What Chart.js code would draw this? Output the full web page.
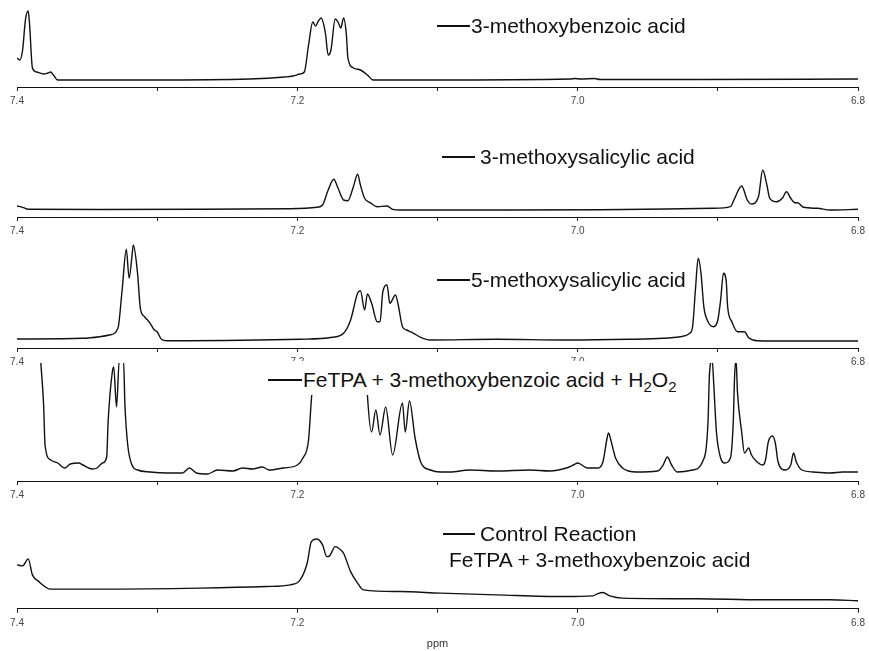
<!DOCTYPE html>
<html>
<head>
<meta charset="utf-8">
<script src="https://cdn.jsdelivr.net/npm/chart.js@4"></script>
<style>
  body { margin: 0; background: #fff; }
  #wrap { position: relative; width: 869px; height: 651px; overflow: hidden; background: #fff; }
  #wrap canvas { position: absolute; left: 0; }
  .tag { position: absolute; font-family: 'Liberation Sans', Arial, sans-serif; font-size: 21px; line-height: 21px; color: #111; white-space: nowrap; }
  .tag .ln { display: inline-block; height: 1.5px; background: #111; vertical-align: 0.3em; }
  .tag sub { font-size: 15px; vertical-align: -5px; line-height: 0; }
</style>
</head>
<body>
<div id="wrap">
  <div class="tag" style="left:437px;top:15px"><span class="ln" style="width:33px;margin-right:1px"></span>3-methoxybenzoic acid</div>
  <div class="tag" style="left:442px;top:146px"><span class="ln" style="width:33px;margin-right:5px"></span>3-methoxysalicylic acid</div>
  <div class="tag" style="left:437px;top:269px"><span class="ln" style="width:33px;margin-right:1px"></span>5-methoxysalicylic acid</div>
  <div class="tag" style="left:265px;top:361px;padding:8px 12px 5px 3px;background:#fff"><span class="ln" style="width:34px;margin-right:1px"></span>FeTPA + 3-methoxybenzoic acid + H<sub>2</sub>O<sub>2</sub></div>
  <div class="tag" style="left:443px;top:521px;line-height:26px"><span class="ln" style="width:32px;margin-right:5px"></span>Control Reaction</div>
  <div class="tag" style="left:449px;top:547px;line-height:26px">FeTPA + 3-methoxybenzoic acid</div>
</div>
<script>
// chemical shift axis
const axisTicks = [7.4, 7.3, 7.2, 7.1, 7.0, 6.9, 6.8];
const tickLabels = ['7.4', '7.2', '7.0', '6.8'];

// 3-methoxybenzoic acid
const benzoicPpm = [7.400, 7.398, 7.396, 7.394, 7.392, 7.391, 7.389, 7.386, 7.381, 7.378, 7.376, 7.374, 7.371, 7.362, 7.305, 7.234, 7.209, 7.203, 7.198, 7.195, 7.192, 7.189, 7.187, 7.185, 7.183, 7.180, 7.178, 7.176, 7.173, 7.171, 7.169, 7.167, 7.165, 7.164, 7.160, 7.155, 7.150, 7.146, 7.105, 7.005, 7.002, 6.998, 6.988, 6.984, 6.913, 6.800];
const benzoicInt = [29, 27, 37, 67, 76, 62, 19, 15, 13, 14, 15, 12, 7, 7, 7, 8, 10, 11, 13, 15, 42, 65, 61, 66, 69, 54, 32, 37, 68, 65, 59, 69, 52, 30, 19, 17, 12, 7, 7, 8, 8.5, 8, 8.5, 7.5, 7.5, 8];

// 3-methoxysalicylic acid
const sal3Ppm = [7.400, 7.396, 7.392, 7.341, 7.269, 7.205, 7.186, 7.182, 7.178, 7.174, 7.171, 7.167, 7.164, 7.160, 7.157, 7.155, 7.152, 7.148, 7.143, 7.136, 7.132, 7.127, 7.055, 6.984, 6.903, 6.891, 6.888, 6.883, 6.879, 6.876, 6.871, 6.868, 6.865, 6.863, 6.858, 6.854, 6.851, 6.848, 6.845, 6.843, 6.839, 6.829, 6.820, 6.800];
const sal3Int = [11, 9.7, 7.7, 7.5, 7.7, 8.3, 9.7, 12, 27, 37.7, 29, 17, 16.3, 30.3, 42.7, 32, 18.7, 14.3, 10.3, 11, 7.7, 7, 7, 7.3, 8.7, 10.3, 18.7, 31, 17, 13, 20.3, 47, 32, 18.7, 15.3, 18.7, 25.3, 18.7, 14.3, 14.3, 9.7, 8.7, 7, 7.7];

// 5-methoxysalicylic acid
const sal5Ppm = [7.400, 7.353, 7.341, 7.334, 7.328, 7.325, 7.322, 7.320, 7.318, 7.317, 7.314, 7.312, 7.309, 7.305, 7.302, 7.300, 7.297, 7.293, 7.198, 7.175, 7.167, 7.162, 7.157, 7.155, 7.152, 7.150, 7.147, 7.143, 7.141, 7.139, 7.136, 7.134, 7.130, 7.128, 7.125, 7.122, 7.117, 7.112, 7.105, 7.058, 7.010, 6.963, 6.939, 6.927, 6.920, 6.918, 6.916, 6.914, 6.912, 6.910, 6.907, 6.903, 6.900, 6.898, 6.896, 6.894, 6.893, 6.890, 6.886, 6.881, 6.878, 6.872, 6.844, 6.800];
const sal5Int = [9, 9.7, 11.3, 13, 19.7, 58, 98.7, 69.7, 91.3, 103, 74.7, 39.7, 31.3, 24.7, 18, 16.3, 8.7, 7.3, 8.7, 10.7, 14.7, 28, 54.7, 57.3, 38, 54, 44.7, 26.3, 26.3, 56.3, 63, 44.7, 53, 43, 21.3, 18, 14.7, 10.7, 8, 8.7, 8, 8.7, 9.7, 11.3, 14.7, 21.3, 58, 89.7, 74.7, 41.3, 26.3, 21.3, 28, 48, 74.7, 66.3, 41.3, 26.3, 16.3, 16.3, 10.3, 7.3, 7, 7];

// FeTPA + 3-methoxybenzoic acid + H2O2 (tall signals run off scale)
const reactionPpm = [7.400, 7.391, 7.385, 7.383, 7.381, 7.380, 7.376, 7.371, 7.366, 7.362, 7.356, 7.353, 7.346, 7.343, 7.339, 7.336, 7.335, 7.332, 7.331, 7.329, 7.327, 7.324, 7.323, 7.321, 7.318, 7.314, 7.305, 7.293, 7.282, 7.277, 7.272, 7.264, 7.257, 7.246, 7.239, 7.232, 7.225, 7.220, 7.210, 7.200, 7.196, 7.192, 7.190, 7.187, 7.180, 7.166, 7.154, 7.152, 7.150, 7.147, 7.144, 7.141, 7.137, 7.132, 7.125, 7.123, 7.120, 7.116, 7.112, 7.105, 7.098, 7.091, 7.077, 7.058, 7.034, 7.020, 7.008, 7.003, 7.000, 6.993, 6.986, 6.982, 6.979, 6.978, 6.976, 6.973, 6.968, 6.958, 6.943, 6.939, 6.936, 6.933, 6.929, 6.918, 6.911, 6.907, 6.906, 6.904, 6.903, 6.901, 6.898, 6.895, 6.891, 6.889, 6.888, 6.887, 6.886, 6.883, 6.881, 6.878, 6.876, 6.872, 6.868, 6.866, 6.864, 6.861, 6.859, 6.857, 6.852, 6.848, 6.846, 6.844, 6.840, 6.832, 6.820, 6.811, 6.800];
const reactionInt = [320, 240, 160, 118, 76, 36, 21, 18, 13, 17, 18, 16, 12, 13, 18, 24, 59, 109, 114, 74, 121, 121, 76, 36, 16, 11, 9, 8, 8, 13, 8, 7, 11, 10, 13, 12, 14, 11, 13, 16, 23, 41, 81, 131, 300, 400, 300, 150, 86, 49, 71, 46, 74, 26, 78, 49, 80, 43, 19, 11, 9, 9, 11, 10, 11, 10, 13, 16, 18, 13, 13, 19, 43, 48, 39, 23, 13, 9, 10, 16, 24, 16, 9, 11, 19, 59, 106, 121, 99, 49, 23, 18, 23, 59, 106, 121, 89, 49, 28, 33, 26, 19, 16, 21, 39, 45, 38, 19, 11, 16, 28, 19, 11, 9, 8, 9, 9];

// control: FeTPA + 3-methoxybenzoic acid
const controlPpm = [7.400, 7.396, 7.392, 7.389, 7.385, 7.376, 7.341, 7.269, 7.222, 7.205, 7.198, 7.193, 7.190, 7.186, 7.182, 7.179, 7.177, 7.173, 7.169, 7.167, 7.162, 7.157, 7.153, 7.127, 7.098, 7.058, 7.010, 6.989, 6.986, 6.982, 6.977, 6.968, 6.915, 6.868, 6.820, 6.800];
const controlInt = [44, 43, 50, 34, 28, 19.7, 19.7, 20.7, 22.3, 24, 29, 45.7, 67.3, 70, 64, 52.3, 53, 62.3, 59, 55.7, 37.3, 25.7, 19, 17.3, 15.7, 14, 12.3, 13, 15, 16.3, 13, 10.7, 10, 9, 9, 8];

// room under each plot for the shift axis
const AXIS_H = 24;

const panels = [
  { ppm: benzoicPpm, int: benzoicInt, top: 5, yMax: 82 },
  { ppm: sal3Ppm, int: sal3Int, top: 140, yMax: 77 },
  { ppm: sal5Ppm, int: sal5Int, top: 240, yMax: 108 },
  { ppm: reactionPpm, int: reactionInt, top: 363, yMax: 118 },
  { ppm: controlPpm, int: controlInt, top: 520, yMax: 89, title: 'ppm' }
];

const wrap = document.getElementById('wrap');
const firstTag = wrap.querySelector('.tag');

panels.forEach(p => {
  const canvas = document.createElement('canvas');
  canvas.width = 869;
  canvas.height = p.yMax + AXIS_H + (p.title ? 18 : 0);
  canvas.style.top = p.top + 'px';
  wrap.insertBefore(canvas, firstTag);

  new Chart(canvas.getContext('2d'), {
    type: 'line',
    data: {
      datasets: [{
        data: p.ppm.map((x, k) => ({ x: x, y: p.int[k] })),
        borderColor: '#111',
        borderWidth: 1.4,
        pointRadius: 0,
        cubicInterpolationMode: 'monotone',
        fill: false
      }]
    },
    options: {
      responsive: false,
      animation: false,
      events: [],
      layout: { padding: { left: 17, right: 11, top: 0, bottom: 0 } },
      plugins: { legend: { display: false }, tooltip: { enabled: false } },
      scales: {
        x: {
          type: 'linear',
          reverse: true,
          min: 6.8,
          max: 7.4,
          afterBuildTicks: axis => { axis.ticks = axisTicks.map(v => ({ value: v })); },
          ticks: {
            autoSkip: false,
            maxRotation: 0,
            padding: 4,
            color: '#444',
            font: { family: 'Liberation Sans', size: 10 },
            callback: v => {
              const s = v.toFixed(1);
              return tickLabels.includes(s) ? s : '';
            }
          },
          grid: { drawOnChartArea: false, drawTicks: true, tickLength: 4, tickColor: '#222' },
          border: { display: true, color: '#111', width: 1 },
          title: {
            display: !!p.title,
            text: p.title || '',
            color: '#333',
            font: { family: 'Liberation Sans', size: 11 },
            padding: { top: 5, bottom: 0 }
          }
        },
        y: { display: false, min: 0, max: p.yMax }
      }
    }
  });
});
</script>
</body>
</html>
